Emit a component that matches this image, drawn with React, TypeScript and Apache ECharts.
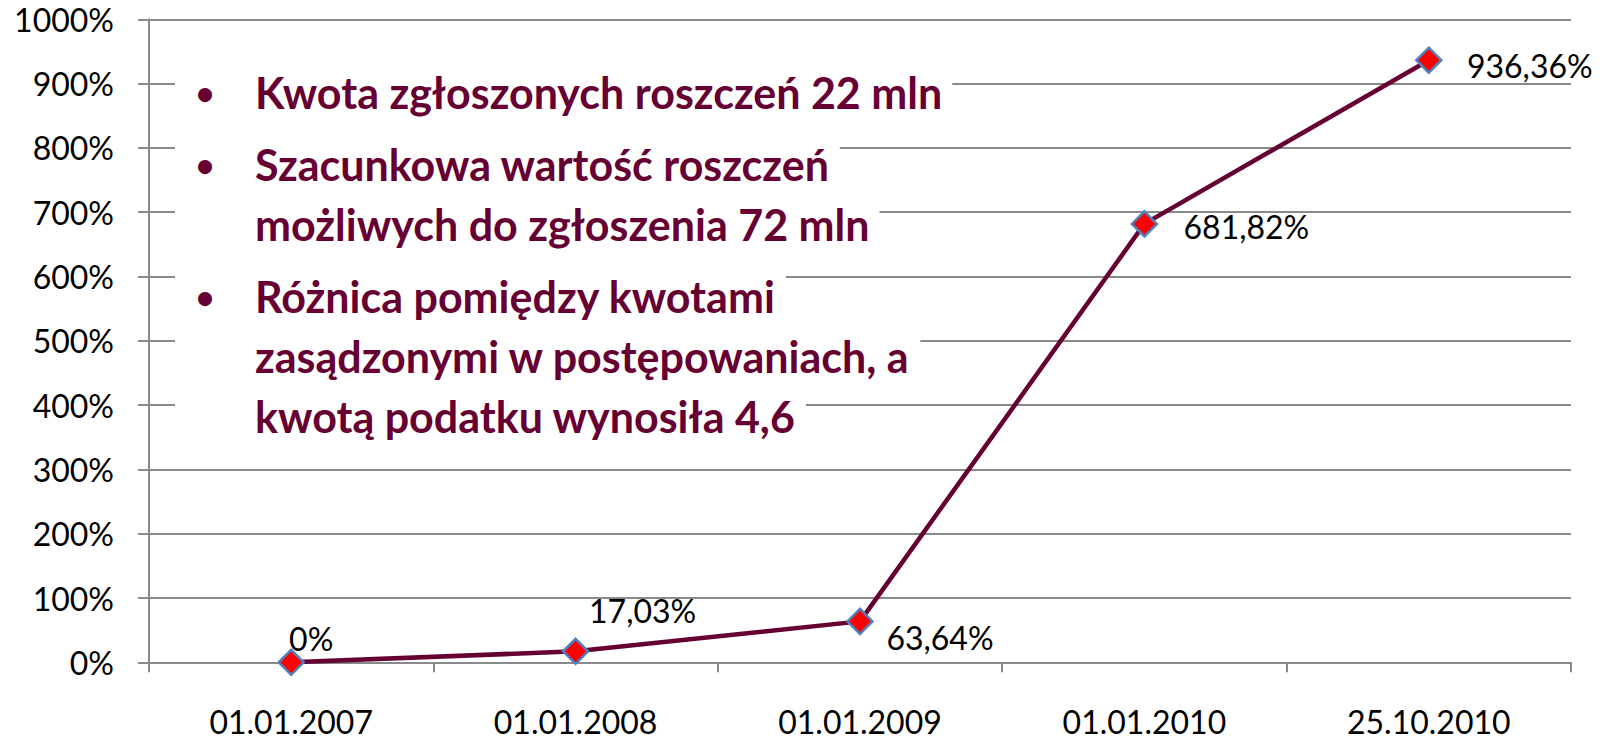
import React, { useEffect, useRef } from "react";
import * as echarts from "echarts";

const categories = ["01.01.2007", "01.01.2008", "01.01.2009", "01.01.2010", "25.10.2010"];
const values = [0, 17.03, 63.64, 681.82, 936.36];
const yMin = 0;
const yMax = 1000;
const yStep = 100;

const paragraphs = [
  ["Kwota zgłoszonych roszczeń 22 mln"],
  ["Szacunkowa wartość roszczeń", "możliwych do zgłoszenia 72 mln"],
  ["Różnica pomiędzy kwotami", "zasądzonymi w postępowaniach, a", "kwotą podatku wynosiła 4,6"],
];

// label placement relative to each marker (layout, not data)
const labelOffsets = [
  [20, -24],
  [67, -41],
  [80, 16],
  [102, 3],
  [101, 5],
];

const TEXT_COLOR = "#660033";
const GRID_COLOR = "#8a8a8a";
const FONT = "Lato, 'Open Sans', sans-serif";

function fmt(v: number): string {
  return String(v).replace(".", ",") + "%";
}

export default function App() {
  const ref = useRef<HTMLDivElement>(null);

  useEffect(() => {
    if (!ref.current) return;
    const chart = echarts.init(ref.current, null, { renderer: "svg" });

    const graphics: any[] = [];
    const bullets: any[] = [];
    let y = 92;
    paragraphs.forEach((para, pi) => {
      if (pi > 0) y += 72;
      para.forEach((line, li) => {
        if (li > 0) y += 60;
        graphics.push({
          type: "text",
          x: 175,
          y,
          z: 10,
          style: {
            text: line,
            fill: TEXT_COLOR,
            font: `bold 43px ${FONT}`,
            verticalAlign: "middle",
            align: "left",
            backgroundColor: "#ffffff",
            padding: [7, 10, 7, 80],
          },
        });
        if (li === 0) {
          bullets.push({
            type: "text",
            x: 205,
            y,
            z: 11,
            style: {
              text: "•",
              fill: TEXT_COLOR,
              font: `bold 32px ${FONT}`,
              verticalAlign: "middle",
              align: "center",
            },
          });
        }
      });
    });

    const option: any = {
      animation: false,
      backgroundColor: "#ffffff",
      grid: {
        left: 149,
        right: 43,
        top: 19.3,
        bottom: 79.7,
        containLabel: false,
        outerBoundsMode: "none",
      },
      xAxis: {
        type: "category",
        data: categories,
        boundaryGap: true,
        axisLine: { show: true, lineStyle: { color: GRID_COLOR, width: 2 } },
        axisTick: { show: true, length: 10, lineStyle: { color: GRID_COLOR, width: 2 } },
        axisLabel: {
          color: "#000",
          fontFamily: FONT,
          fontWeight: "normal",
          fontSize: 32,
          lineHeight: 34,
          margin: 42,
        },
        splitLine: { show: false },
      },
      yAxis: {
        type: "value",
        min: yMin,
        max: yMax,
        interval: yStep,
        axisLine: { show: true, lineStyle: { color: GRID_COLOR, width: 2 } },
        axisTick: { show: true, length: 11, lineStyle: { color: GRID_COLOR, width: 2 } },
        axisLabel: {
          color: "#000",
          fontFamily: FONT,
          fontWeight: "normal",
          fontSize: 32,
          margin: 35,
          formatter: (v: number) => String(v) + "%",
        },
        splitLine: { show: true, lineStyle: { color: GRID_COLOR, width: 2 } },
      },
      series: [
        {
          type: "line",
          data: values.map((v, i) => ({
            value: v,
            label: { offset: labelOffsets[i] },
          })),
          symbol: "diamond",
          symbolSize: 25,
          z: 3,
          lineStyle: { color: TEXT_COLOR, width: 4.5 },
          itemStyle: { color: "#ff0000", borderColor: "#4f81bd", borderWidth: 2.5 },
          label: {
            show: true,
            position: "inside",
            color: "#000",
            fontFamily: FONT,
            fontWeight: "normal",
            fontSize: 32,
            formatter: (p: any) => fmt(p.value),
          },
        },
      ],
      graphic: [...graphics, ...bullets],
    };

    chart.setOption(option);
    return () => chart.dispose();
  }, []);

  return (
    <div
      ref={ref}
      style={{ position: "fixed", left: 0, top: 0, width: 1614, height: 742, background: "#fff" }}
    />
  );
}
